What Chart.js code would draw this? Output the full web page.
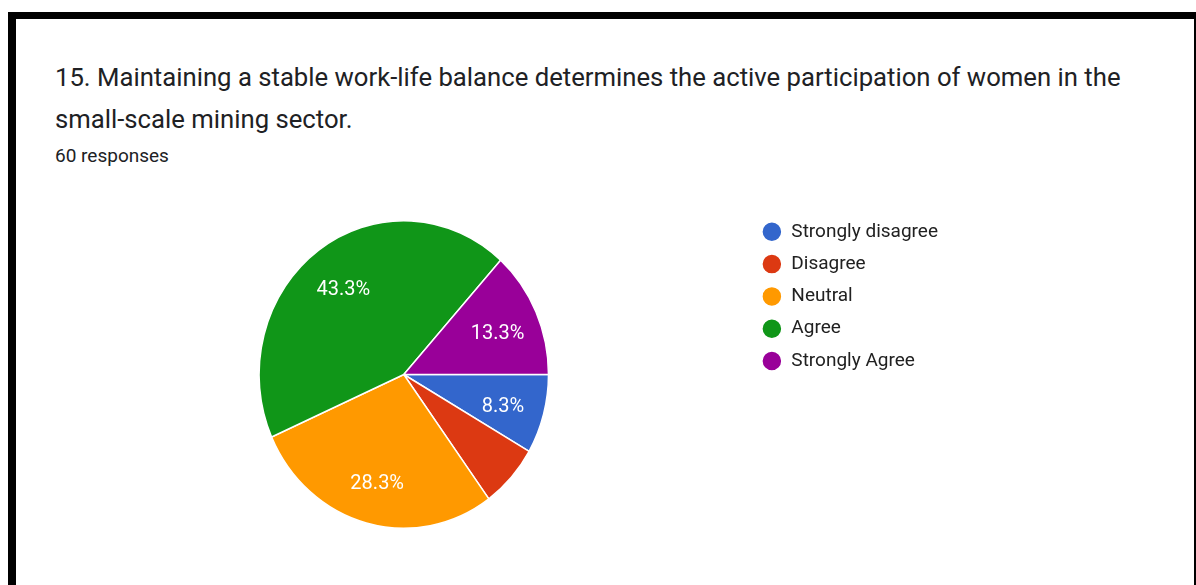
<!DOCTYPE html>
<html>
<head>
<meta charset="utf-8">
<title>Work-life balance responses</title>
<script src="https://cdn.jsdelivr.net/npm/chart.js@4/dist/chart.umd.min.js"></script>
<style>
  body {
    margin: 0;
    width: 1196px;
    height: 585px;
    overflow: hidden;
    background: #fff;
    font-family: Roboto, "Noto Sans", sans-serif;
    position: relative;
  }
  .frame-top { position: absolute; left: 8px; top: 12px; width: 1188px; height: 7px; background: #000; }
  .frame-left { position: absolute; left: 8px; top: 12px; width: 8px; height: 573px; background: #000; }
  .frame-right { position: absolute; left: 1194px; top: 12px; width: 2px; height: 573px; background: #000; }
  #question {
    position: absolute;
    left: 55px;
    top: 56px;
    font-size: 25.7px;
    line-height: 42px;
    color: #202124;
    white-space: nowrap;
  }
  #responses {
    position: absolute;
    left: 55px;
    top: 146px;
    font-size: 19px;
    line-height: 20px;
    color: #202124;
  }
  #chartBox {
    position: absolute;
    left: 59px;
    top: 209px;
    width: 889px;
    height: 331px;
  }
</style>
</head>
<body>
<div class="frame-top"></div>
<div class="frame-left"></div>
<div class="frame-right"></div>

<div id="question">15. Maintaining a stable work-life balance determines the active participation of women in the<br>small-scale mining sector.</div>
<div id="responses">60 responses</div>

<div id="chartBox"><canvas id="myChart"></canvas></div>

<script>
"use strict";

const answers = ['Strongly disagree', 'Disagree', 'Neutral', 'Agree', 'Strongly Agree'];
const counts = [5, 4, 17, 26, 8];
const sliceColors = ['#3366cc', '#dc3912', '#ff9900', '#109618', '#990099'];

const totalResponses = counts.reduce((a, b) => a + b, 0);

// the pie in the form summary is a little taller than wide
const stretchY = 1.0625;

const ovalPie = {
  id: 'ovalPie',
  beforeDatasetsDraw(chart) {
    const arc = chart.getDatasetMeta(0).data[0];
    const ctx = chart.ctx;
    ctx.save();
    ctx.translate(arc.x, arc.y);
    ctx.scale(1, stretchY);
    ctx.translate(-arc.x, -arc.y);
  },
  afterDatasetsDraw(chart) {
    chart.ctx.restore();
  }
};

// percentage text inside each slice, small slices stay blank
const sliceLabels = {
  id: 'sliceLabels',
  afterDatasetsDraw(chart) {
    const ctx = chart.ctx;
    const meta = chart.getDatasetMeta(0);
    ctx.save();
    ctx.font = '20px Roboto';
    ctx.fillStyle = '#fff';
    ctx.textAlign = 'center';
    ctx.textBaseline = 'middle';
    meta.data.forEach((arc, i) => {
      const pct = 100 * counts[i] / totalResponses;
      if (pct < 7) return;
      const mid = (arc.startAngle + arc.endAngle) / 2;
      const r = arc.outerRadius * 0.71;
      const x = arc.x + Math.cos(mid) * r;
      const y = arc.y + Math.sin(mid) * r * stretchY + 4;
      ctx.fillText(pct.toFixed(1) + '%', x, y);
    });
    ctx.restore();
  }
};

const ctx = document.getElementById('myChart');

new Chart(ctx, {
  type: 'pie',
  data: {
    labels: answers,
    datasets: [{
      data: counts,
      backgroundColor: sliceColors,
      borderColor: '#fff',
      borderWidth: 1.5,
      hoverOffset: 0
    }]
  },
  options: {
    responsive: true,
    maintainAspectRatio: false,
    animation: false,
    rotation: 90,
    radius: 144.7,
    layout: { padding: 0 },
    plugins: {
      tooltip: { enabled: false },
      legend: {
        position: 'right',
        align: 'start',
        labels: {
          usePointStyle: true,
          pointStyle: 'circle',
          pointStyleWidth: 20,
          boxHeight: 14.14,
          padding: 13.3,
          color: '#212121',
          font: { family: 'Roboto', size: 19 }
        }
      }
    }
  },
  plugins: [ovalPie, sliceLabels]
});
</script>
</body>
</html>
